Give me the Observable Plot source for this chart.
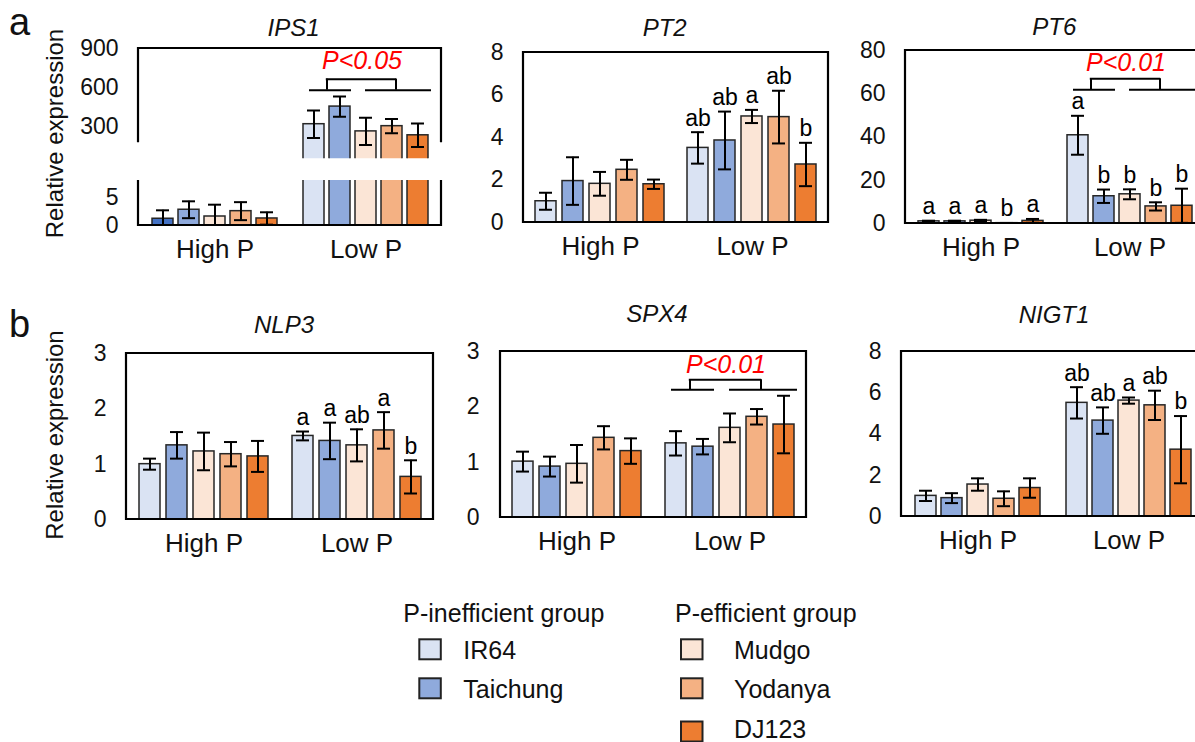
<!DOCTYPE html>
<html>
<head>
<meta charset="utf-8">
<script src="https://cdn.jsdelivr.net/npm/d3@7"></script>
<script src="https://cdn.jsdelivr.net/npm/@observablehq/plot@0.6"></script>
<style>
  html, body { margin: 0; padding: 0; background: #fff; }
  body { width: 1195px; height: 742px; overflow: hidden; font-family: "Liberation Sans", Arial, Helvetica, sans-serif; }
  #fig { position: relative; width: 1195px; height: 742px; overflow: hidden; }
</style>
</head>
<body>
<div id="fig"></div>
<script>
// ---------------- data ----------------
const cultivars = ["IR64", "Taichung", "Mudgo", "Yodanya", "DJ123"];
const conditions = ["High P", "Low P"];
const colors = ["#dae3f3", "#8faadc", "#fbe5d6", "#f4b183", "#ed7d31"];
const groupInefficient = ["IR64", "Taichung"];
const groupEfficient = ["Mudgo", "Yodanya", "DJ123"];
const genes = ["IPS1", "PT2", "PT6", "NLP3", "SPX4", "NIGT1"];

// order: High P (5 cultivars), then Low P (5 cultivars)
const ips1Mean = [1.2, 2.8, 1.6, 2.55, 1.25, 320, 455, 265, 305, 235];
const ips1Sd   = [1.5, 1.5, 2.1, 1.6, 1.1, 105, 78, 105, 55, 90];

const pt2Mean = [1.0, 1.95, 1.82, 2.48, 1.80, 3.51, 3.86, 4.99, 4.96, 2.73];
const pt2Sd   = [0.4, 1.12, 0.56, 0.47, 0.22, 0.74, 1.36, 0.31, 1.24, 1.02];
const pt2Letters = ["", "", "", "", "", "ab", "ab", "a", "ab", "b"];

const pt6Mean = [1.0, 1.0, 1.3, 0.15, 1.2, 40.8, 12.6, 13.5, 7.9, 8.2];
const pt6Sd   = [0.3, 0.3, 0.4, 0.1, 0.9, 9.0, 3.1, 2.3, 1.9, 7.9];
const pt6Letters = ["a", "a", "a", "b", "a", "a", "b", "b", "b", "b"];

const nlp3Mean = [1.0, 1.34, 1.23, 1.18, 1.14, 1.51, 1.42, 1.34, 1.61, 0.77];
const nlp3Sd   = [0.1, 0.24, 0.34, 0.22, 0.28, 0.08, 0.33, 0.29, 0.33, 0.30];
const nlp3Letters = ["", "", "", "", "", "a", "a", "ab", "a", "b"];

const spx4Mean = [1.01, 0.92, 0.97, 1.44, 1.20, 1.34, 1.28, 1.62, 1.82, 1.68];
const spx4Sd   = [0.18, 0.18, 0.34, 0.21, 0.23, 0.22, 0.14, 0.26, 0.14, 0.52];

const nigt1Mean = [1.0, 0.89, 1.55, 0.86, 1.38, 5.51, 4.65, 5.62, 5.39, 3.24];
const nigt1Sd   = [0.25, 0.24, 0.30, 0.36, 0.47, 0.76, 0.64, 0.15, 0.71, 1.63];
const nigt1Letters = ["", "", "", "", "", "ab", "ab", "a", "ab", "b"];

// significance brackets between the two groups (Low P)
const bracketGenes  = ["IPS1", "PT6", "SPX4"];
const bracketLabels = ["P<0.05", "P<0.01", "P<0.01"];
const bracketLineY  = [581, 61.8, 2.31];
const bracketTopY   = [665, 66.9, 2.49];
const bracketTextY  = [806, 74.1, 2.75];

// ---------------- drawing ----------------
const FONT = '"Liberation Sans", Arial, Helvetica, sans-serif';
const fig = document.getElementById("fig");
const brackets = bracketGenes.map((g, i) => ({
  gene: g, cond: "Low P", label: bracketLabels[i],
  yLine: bracketLineY[i], yTop: bracketTopY[i], yText: bracketTextY[i]
}));

function fillFor(gene, cond, cultivar) {
  // in the original figure the High P IR64 bar of IPS1 is drawn in a darker blue
  if (gene === "IPS1" && cond === "High P" && cultivar === "IR64") return "#4472c4";
  return colors[cultivars.indexOf(cultivar)];
}

function panel(cfg) {
  const {gene, mean, sd, letters = [], left, top, w, h, domain, ticks, fxAxis = true, frame = "box", withBrackets = true} = cfg;
  const ML = 70, MR = 10, MT = 10, MB = fxAxis ? 45 : 0;
  const data = conditions.flatMap((c, ci) => cultivars.map((k, ki) => {
    const i = ci * cultivars.length + ki;
    return {gene, cond: c, cultivar: k, mean: mean[i], sd: sd[i], letter: letters[i] || "", fill: fillFor(gene, c, k)};
  }));
  const br = withBrackets ? brackets.filter(b => b.gene === gene) : [];
  const marks = [
    Plot.barY(data, {fx: "cond", x: "cultivar", y: "mean", fill: "fill", stroke: "#262626", strokeWidth: 1.5, clip: true}),
    Plot.ruleX(data, {fx: "cond", x: "cultivar", y1: d => d.mean - d.sd, y2: d => d.mean + d.sd, stroke: "#000", strokeWidth: 2, clip: true}),
    Plot.tickY(data, {fx: "cond", x: "cultivar", y: d => d.mean + d.sd, stroke: "#000", strokeWidth: 2, inset: 4, clip: true}),
    Plot.tickY(data, {fx: "cond", x: "cultivar", y: d => d.mean - d.sd, stroke: "#000", strokeWidth: 2, inset: 4, clip: true}),
    Plot.text(data.filter(d => d.letter), {fx: "cond", x: "cultivar", y: d => d.mean + d.sd, text: "letter", dy: -14, fontSize: 23, fill: "#000"}),
    Plot.axisY({ticks, tickSize: 0, tickPadding: 21, fontSize: 23, label: null, tickFormat: d => String(d)})
  ];
  if (fxAxis) marks.push(Plot.axisFx({anchor: "bottom", tickSize: 0, tickPadding: 14, fontSize: 26, label: null}));
  if (br.length) {
    marks.push(
      Plot.ruleY(br, {fx: "cond", y: "yLine", x1: () => groupInefficient[0], x2: () => groupInefficient[groupInefficient.length - 1], insetLeft: 6, insetRight: -1, stroke: "#000", strokeWidth: 2}),
      Plot.ruleY(br, {fx: "cond", y: "yLine", x1: () => groupEfficient[0], x2: () => groupEfficient[groupEfficient.length - 1], insetLeft: 10, insetRight: -3, stroke: "#000", strokeWidth: 2}),
      Plot.ruleX(br, {fx: "cond", x: () => groupInefficient[1], y1: "yLine", y2: "yTop", dx: -13, stroke: "#000", strokeWidth: 2}),
      Plot.ruleX(br, {fx: "cond", x: () => groupEfficient[1], y1: "yLine", y2: "yTop", dx: 4, stroke: "#000", strokeWidth: 2}),
      Plot.ruleY(br, {fx: "cond", y: "yTop", x1: () => groupInefficient[1], x2: () => groupEfficient[1], insetLeft: -3.2, insetRight: 5.8, stroke: "#000", strokeWidth: 2}),
      Plot.text(br, {fx: "cond", x: () => groupEfficient[0], dx: -4, y: "yText", text: "label", fill: "#ff0000", fontStyle: "italic", fontSize: 25})
    );
  }
  const svg = Plot.plot({
    width: w + ML + MR,
    height: h + MT + MB,
    marginLeft: ML, marginRight: MR, marginTop: MT, marginBottom: MB,
    style: {fontFamily: FONT, fontSize: "23px", color: "#111", background: "transparent", overflow: "visible"},
    fx: {domain: conditions, padding: 0, axis: null, label: null},
    x: {domain: cultivars, paddingInner: 0.21, paddingOuter: 0.405, axis: null},
    y: {domain, label: null},
    marks
  });
  const x0 = ML, x1 = ML + w, y0 = MT, y1 = MT + h;
  let path;
  if (frame === "box") path = `M${x0},${y0}H${x1}V${y1}H${x0}Z`;
  else if (frame === "upper") path = `M${x0},${y1 - 16}V${y0}H${x1}V${y1 - 16}`;
  else path = `M${x0},${y0}V${y1}H${x1}V${y0}`;
  d3.select(svg).append("path").attr("d", path).attr("fill", "none").attr("stroke", "#000").attr("stroke-width", 2.2).attr("stroke-linejoin", "miter");
  svg.style.position = "absolute";
  svg.style.left = (left - ML) + "px";
  svg.style.top = (top - MT) + "px";
  svg.style.maxWidth = "none";
  fig.appendChild(svg);
}

// overlay for titles and legend
const overlay = d3.select(fig).append("svg")
  .attr("width", 1195).attr("height", 742)
  .style("position", "absolute").style("left", "0px").style("top", "0px")
  .style("font-family", FONT).style("overflow", "visible");

function label(s, x, capY, fs, anchor = "middle", italic = false) {
  overlay.append("text").attr("x", x).attr("y", capY + 0.358 * fs)
    .attr("font-size", fs).attr("text-anchor", anchor)
    .attr("font-style", italic ? "italic" : "normal").attr("fill", "#111").text(s);
}

// ---- row a ----
panel({gene: "IPS1", mean: ips1Mean, sd: ips1Sd, left: 138, top: 47.7, w: 303, h: 110.3, domain: [55, 900], ticks: [300, 600, 900], fxAxis: false, frame: "upper"});
panel({gene: "IPS1", mean: ips1Mean, sd: ips1Sd, left: 138, top: 180, w: 303, h: 45, domain: [0, 8], ticks: [0, 5], frame: "lower", withBrackets: false});
panel({gene: "PT2", mean: pt2Mean, sd: pt2Sd, letters: pt2Letters, left: 523, top: 52, w: 305, h: 170, domain: [0, 8], ticks: [0, 2, 4, 6, 8]});
panel({gene: "PT6", mean: pt6Mean, sd: pt6Sd, letters: pt6Letters, left: 905, top: 50, w: 299, h: 173, domain: [0, 80], ticks: [0, 20, 40, 60, 80]});
// ---- row b ----
panel({gene: "NLP3", mean: nlp3Mean, sd: nlp3Sd, letters: nlp3Letters, left: 126, top: 353.3, w: 307, h: 166, domain: [0, 3], ticks: [0, 1, 2, 3]});
panel({gene: "SPX4", mean: spx4Mean, sd: spx4Sd, left: 500, top: 351, w: 306, h: 166, domain: [0, 3], ticks: [0, 1, 2, 3]});
panel({gene: "NIGT1", mean: nigt1Mean, sd: nigt1Sd, letters: nigt1Letters, left: 901, top: 351, w: 303, h: 165, domain: [0, 8], ticks: [0, 2, 4, 6, 8]});

// gene titles
const titlePos = [[293.5, 27], [664.7, 27.5], [1054.3, 26.5], [284, 324.7], [657, 313.7], [1054, 314.3]];
genes.forEach((g, i) => label(g, titlePos[i][0], titlePos[i][1], 24, "middle", true));

// panel letters
overlay.append("text").attr("x", 9).attr("y", 35).attr("font-size", 38).attr("fill", "#111").text("a");
overlay.append("text").attr("x", 9).attr("y", 337).attr("font-size", 38).attr("fill", "#111").text("b");

// y-axis titles
[[54, 133.5], [54, 435]].forEach(([x, y]) => {
  overlay.append("text").attr("transform", `translate(${x},${y}) rotate(-90)`)
    .attr("text-anchor", "middle").attr("dy", "0.358em").attr("font-size", 24).attr("fill", "#111")
    .text("Relative expression");
});

// legend
label("P-inefficient group", 403.3, 612.8, 25, "start");
label("P-efficient group", 675, 612.8, 25, "start");
const legendPos = [[419.3, 639.3, 463.3, 650], [419.3, 678.3, 463.3, 688.7], [681, 639.3, 734, 650], [681, 678.3, 734, 688.7], [681, 721.5, 734, 729.5]];
cultivars.forEach((c, i) => {
  const [sx, sy, tx, ty] = legendPos[i];
  overlay.append("rect").attr("x", sx).attr("y", sy).attr("width", 21.5).attr("height", 20)
    .attr("fill", colors[i]).attr("stroke", "#222").attr("stroke-width", 2);
  label(c, tx, ty, 25, "start");
});
</script>
</body>
</html>
